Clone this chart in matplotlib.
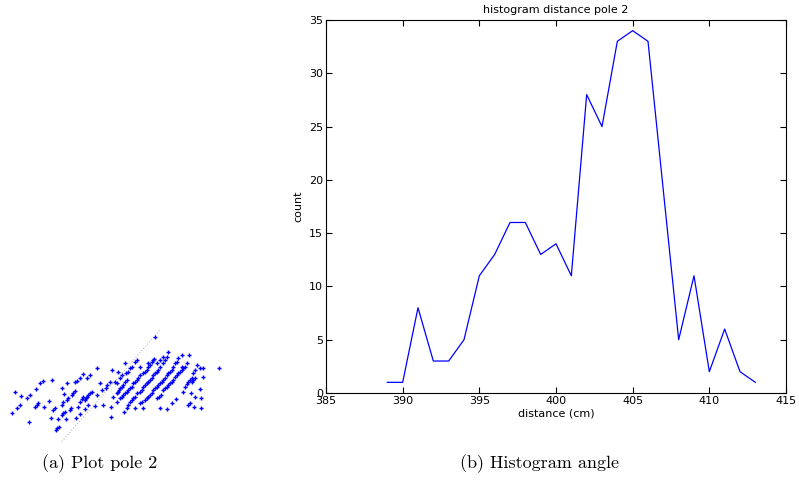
import numpy as np
import matplotlib.pyplot as plt

# histogram (b)
distance = [389, 390, 391, 392, 393, 394, 395, 396, 397, 398, 399, 400, 401,
            402, 403, 404, 405, 406, 407, 408, 409, 410, 411, 412, 413]
count = [1, 1, 8, 3, 3, 5, 11, 13, 16, 16, 13, 14, 11,
         28, 25, 33, 34, 33, 19, 5, 11, 2, 6, 2, 1]

# scatter (a) (pixel-ish units, y downwards)
sx = [465, 657, 37, 52, 60, 45, 62, 80, 90, 107, 120, 130, 157, 88, 105, 110, 115,
      133, 148, 152, 160, 165, 168, 172, 178, 175, 185, 190, 195, 198, 185, 190, 200,
      205, 210, 212, 215, 220, 225, 185, 192, 200, 225, 230, 240, 248, 262, 270, 290,
      235, 240, 245, 250, 255, 258, 262, 265, 270, 275, 228, 240, 255, 265, 285, 290,
      300, 305, 318, 320, 330, 335, 355, 310, 333, 333, 340, 350, 355, 358, 360, 365,
      370, 375, 380, 345, 350, 360, 375, 365, 378, 385, 390, 395, 405, 410, 350, 360,
      365, 370, 375, 380, 385, 390, 395, 400, 405, 410, 415, 420, 420, 430, 435, 440,
      445, 450, 455, 460, 462, 445, 372, 380, 385, 390, 395, 400, 405, 410, 420, 425,
      430, 435, 440, 445, 450, 455, 460, 465, 470, 475, 480, 490, 495, 500, 505, 490,
      480, 470, 405, 430, 420, 425, 435, 440, 445, 450, 455, 460, 465, 470, 475, 480,
      485, 490, 495, 500, 505, 510, 515, 520, 525, 530, 535, 545, 480, 500, 470, 478,
      483, 490, 495, 500, 505, 510, 515, 520, 525, 530, 535, 540, 545, 550, 555, 560,
      568, 515, 528, 548, 555, 560, 565, 570, 575, 578, 585, 590, 600, 608, 575, 580,
      585, 565, 570, 572, 585, 600, 602, 603, 608, 582, 545]
sy = [52, 145, 280, 265, 255, 217, 228, 235, 225, 207, 190, 182, 180, 307, 262, 255, 250,
      262, 243, 295, 270, 265, 330, 325, 320, 297, 285, 280, 275, 297, 255, 245, 240,
      235, 270, 265, 225, 220, 213, 205, 222, 188, 187, 182, 173, 163, 175, 165, 145,
      260, 245, 238, 232, 240, 235, 230, 225, 220, 215, 295, 282, 268, 255, 258, 225,
      188, 210, 205, 195, 185, 150, 155, 255, 262, 290, 230, 220, 215, 210, 205, 200,
      195, 185, 180, 185, 190, 175, 130, 165, 160, 155, 145, 140, 125, 120, 245, 235,
      230, 225, 220, 215, 210, 205, 200, 190, 185, 180, 175, 165, 140, 160, 155, 150,
      140, 135, 125, 120, 117, 130, 275, 265, 255, 245, 240, 235, 230, 220, 215, 210,
      200, 195, 190, 185, 180, 175, 165, 160, 155, 150, 140, 130, 120, 110, 97, 110,
      120, 130, 265, 265, 250, 245, 240, 235, 230, 225, 220, 210, 205, 200, 195, 190,
      185, 180, 175, 165, 160, 155, 150, 140, 130, 125, 115, 105, 265, 268, 235, 230,
      225, 210, 205, 200, 195, 190, 185, 180, 172, 165, 160, 155, 150, 145, 140, 130,
      105, 250, 238, 215, 200, 192, 185, 180, 175, 160, 150, 135, 145, 145, 185, 180,
      175, 255, 250, 218, 230, 208, 235, 265, 172, 262, 140]
line_x = [185, 480]
line_y = [365, 30]

fig = plt.figure(figsize=(7.99, 4.8), dpi=100)

# (a)
ax1 = fig.add_axes([0, 30 / 480, 240 / 799, 130 / 480])
ax1.plot(line_x, line_y, ls=':', c='#bbbbbb', lw=0.8)
ax1.plot(sx, sy, ls='none', marker='+', ms=2.5, mew=1.0, c='b')
ax1.set_xlim(0, 720)
ax1.set_ylim(390, 0)
ax1.axis('off')

# (b)
ax2 = fig.add_axes([326 / 799, 87 / 480, 460 / 799, 373 / 480])
ax2.plot(distance, count, c='b', lw=0.9)
ax2.set_xlim(385, 415)
ax2.set_ylim(0, 35)
ax2.set_xticks(range(385, 416, 5))
ax2.set_yticks(range(0, 36, 5))
ax2.tick_params(direction='in', top=True, right=True, labelsize=8, length=4, pad=2)
ax2.set_title('histogram distance pole 2', fontsize=8, pad=5)
ax2.set_xlabel('distance (cm)', fontsize=8, labelpad=2)
ax2.set_ylabel('count', fontsize=8, labelpad=4)
for s in ax2.spines.values():
    s.set_linewidth(0.8)

fig.text(100 / 799, 1 - 464 / 480, '(a) Plot pole 2', ha='center', va='center',
         fontsize=13, family='cmr10')
fig.text(540 / 799, 1 - 464 / 480, '(b) Histogram angle', ha='center', va='center',
         fontsize=13, family='cmr10')

fig.savefig('out.png', dpi=100)
